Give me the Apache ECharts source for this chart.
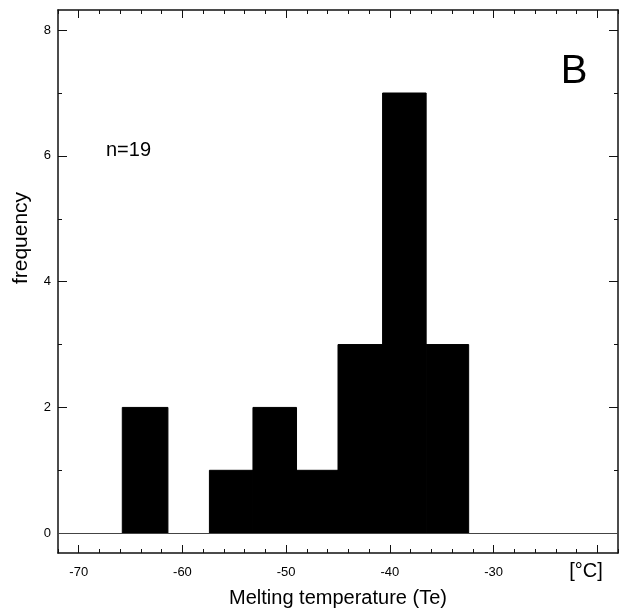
<!DOCTYPE html>
<html>
<head>
<meta charset="utf-8">
<script src="https://cdn.jsdelivr.net/npm/echarts@6/dist/echarts.min.js"></script>
<style>html,body{margin:0;padding:0;background:#fff;}#c{width:627px;height:610px;}</style>
</head>
<body>
<div id="c"></div>
<script>
// Histogram bins (°C) and counts
const binStart = [-65.8, -61.4, -57.4, -53.2, -49.0, -45.0, -40.7, -36.5];
const binEnd   = [-61.4, -57.4, -53.2, -49.0, -45.0, -40.7, -36.5, -32.4];
const counts   = [2, 0, 1, 2, 1, 3, 7, 3];

// Axis ticks / labels
const xLabels = [-70, -60, -50, -40, -30];
const xMajorTicks = [-70, -60, -50, -40, -30, -20];
const xMinorTicks = [-72, -68, -66, -64, -62, -58, -56, -54, -52, -48, -46, -44, -42, -38, -36, -34, -32, -28, -26, -24, -22, -18];
const yLabels = [0, 2, 4, 6, 8];
const yMinorTicks = [1, 3, 5, 7];

const FONT = 'Liberation Sans, Arial, Helvetica, sans-serif';
const chart = echarts.init(document.getElementById('c'), null, {renderer: 'canvas'});

const xRange = {min: -72, max: -18};
const yRange = {min: -0.315, max: 8.32};

function xAxisDef(pos, ticks, len, withLine, withLabels, extra) {
  return Object.assign({
    type: 'value', position: pos, min: xRange.min, max: xRange.max, gridIndex: 0,
    splitLine: {show: false},
    axisLine: {show: withLine, onZero: false, lineStyle: {color: '#111', width: 1.5}},
    axisTick: {show: true, inside: true, length: len, customValues: ticks, lineStyle: {color: '#111', width: 1}},
    axisLabel: withLabels ? {show: true, customValues: xLabels, color: '#000', fontSize: 13, fontFamily: FONT, margin: 13} : {show: false}
  }, extra || {});
}
function yAxisDef(pos, ticks, len, withLine, withLabels, extra) {
  return Object.assign({
    type: 'value', position: pos, min: yRange.min, max: yRange.max, gridIndex: 0,
    splitLine: {show: false},
    axisLine: {show: withLine, onZero: false, lineStyle: {color: '#111', width: 1.5}},
    axisTick: {show: true, inside: true, length: len, customValues: ticks, lineStyle: {color: '#111', width: 1}},
    axisLabel: withLabels ? {show: true, customValues: yLabels, color: '#000', fontSize: 13, fontFamily: FONT, margin: 7} : {show: false}
  }, extra || {});
}

const histData = binStart.map((s, i) => [s, binEnd[i], counts[i]]);

chart.setOption({
  animation: false,
  backgroundColor: '#fff',
  grid: {left: 58, right: 9, top: 10, bottom: 57, containLabel: false, outerBoundsMode: 'none'},
  xAxis: [
    xAxisDef('bottom', xMajorTicks, 8, true, true, {
      name: 'Melting temperature (Te)', nameLocation: 'middle', nameGap: 35,
      nameTextStyle: {fontSize: 20, fontFamily: FONT, color: '#000'}
    }),
    xAxisDef('bottom', xMinorTicks, 4, false, false),
    xAxisDef('top', xMajorTicks, 8, true, false),
    xAxisDef('top', xMinorTicks, 4, false, false)
  ],
  yAxis: [
    yAxisDef('left', yLabels, 9, true, true),
    yAxisDef('left', yMinorTicks, 4, false, false),
    yAxisDef('right', yLabels, 9, true, false),
    yAxisDef('right', yMinorTicks, 4, false, false)
  ],
  series: [{
    type: 'custom',
    xAxisIndex: 0, yAxisIndex: 0,
    data: histData,
    encode: {x: [0, 1], y: 2},
    renderItem: function (params, api) {
      if (!api.value(2)) return null;
      const p0 = api.coord([api.value(0), 0]);
      const p1 = api.coord([api.value(1), api.value(2)]);
      return {
        type: 'rect',
        shape: {x: p0[0], y: p1[1], width: p1[0] - p0[0], height: p0[1] - p1[1]},
        style: {fill: '#000', stroke: '#000', lineWidth: 1}
      };
    },
    markLine: {
      silent: true, symbol: 'none', label: {show: false},
      lineStyle: {color: '#444', width: 1, type: 'solid'},
      data: [{yAxis: 0}]
    },
    z: 2
  }],
  graphic: [
    {type: 'text', x: 21, y: 238, rotation: Math.PI / 2,
     style: {text: 'frequency', font: '21px ' + FONT, fill: '#000', textAlign: 'center', textVerticalAlign: 'middle'}},
    {type: 'text', x: 106, y: 150,
     style: {text: 'n=19', font: '20px ' + FONT, fill: '#000', textAlign: 'left', textVerticalAlign: 'middle'}},
    {type: 'text', x: 574, y: 72,
     style: {text: 'B', font: '40px ' + FONT, fill: '#000', textAlign: 'center', textVerticalAlign: 'middle'}},
    {type: 'text', x: 586, y: 571,
     style: {text: '[°C]', font: '20px ' + FONT, fill: '#000', textAlign: 'center', textVerticalAlign: 'middle'}}
  ]
});
</script>
</body>
</html>
